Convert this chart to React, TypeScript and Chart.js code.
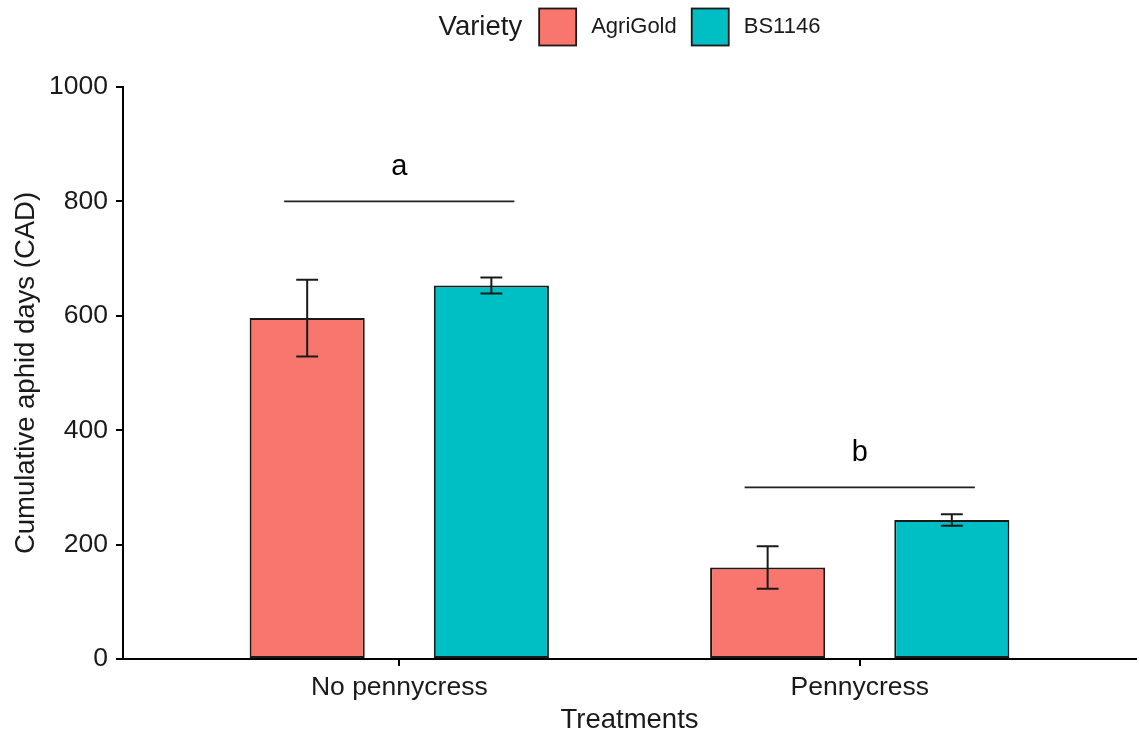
import React, { useEffect, useRef } from "react";
import { Chart, registerables } from "chart.js";

Chart.register(...registerables);

// ---- data ----
const categories = ["No pennycress", "Pennycress"];
const varieties = ["AgriGold", "BS1146"];
const agriGoldMean = [596, 160];
const agriGoldSE = [67, 37];
const bs1146Mean = [653, 243];
const bs1146SE = [14, 10];
const sigLetters = ["a", "b"];
const sigLineY = [800, 300];
const sigLetterY = [860, 360];
const yTicks = [0, 200, 400, 600, 800, 1000];

// ---- styling ----
const colors = ["#F8766D", "#00BFC4"];
const FONT = '"Liberation Sans", Arial, sans-serif';
const TEXT = "#1a1a1a";
const DODGE = 0.2;
const SIG_HALF = 0.25;

const errorBarPlugin = {
  id: "errorBars",
  afterDatasetsDraw(chart: any) {
    const ctx = chart.ctx;
    const yScale = chart.scales.y;
    ctx.save();
    ctx.strokeStyle = TEXT;
    ctx.lineWidth = 2;
    chart.data.datasets.forEach((ds: any, di: number) => {
      const meta = chart.getDatasetMeta(di);
      meta.data.forEach((bar: any, j: number) => {
        const mean = ds.data[j].y;
        const se = ds.se[j];
        const x = bar.x;
        const half = bar.width * 0.095;
        const yHi = yScale.getPixelForValue(mean + se);
        const yLo = yScale.getPixelForValue(mean - se);
        ctx.beginPath();
        ctx.moveTo(x, yHi);
        ctx.lineTo(x, yLo);
        ctx.moveTo(x - half, yHi);
        ctx.lineTo(x + half, yHi);
        ctx.moveTo(x - half, yLo);
        ctx.lineTo(x + half, yLo);
        ctx.stroke();
      });
    });
    ctx.restore();
  },
};

const sigPlugin = {
  id: "sigLines",
  afterDatasetsDraw(chart: any) {
    const ctx = chart.ctx;
    const xs = chart.scales.x;
    const ys = chart.scales.y;
    ctx.save();
    ctx.strokeStyle = "#222";
    ctx.lineWidth = 1.8;
    ctx.fillStyle = "#000";
    ctx.font = `29px ${FONT}`;
    ctx.textAlign = "center";
    ctx.textBaseline = "middle";
    categories.forEach((_, i) => {
      const c = i + 1;
      const y = ys.getPixelForValue(sigLineY[i]);
      ctx.beginPath();
      ctx.moveTo(xs.getPixelForValue(c - SIG_HALF), y);
      ctx.lineTo(xs.getPixelForValue(c + SIG_HALF), y);
      ctx.stroke();
      ctx.fillText(sigLetters[i], xs.getPixelForValue(c), ys.getPixelForValue(sigLetterY[i]));
    });
    ctx.restore();
  },
};

const legendPlugin = {
  id: "ggLegend",
  afterDraw(chart: any) {
    const ctx = chart.ctx;
    const area = chart.chartArea;
    ctx.save();
    const titleFont = `27.5px ${FONT}`;
    const labelFont = `22px ${FONT}`;
    ctx.font = titleFont;
    const titleW = ctx.measureText("Variety").width;
    ctx.font = labelFont;
    const labW = varieties.map((v) => ctx.measureText(v).width);
    const box = 37;
    const gapTitle = 17;
    const gap = 15;
    let total = titleW + gapTitle;
    labW.forEach((w, i) => {
      total += box + gap + w + (i < labW.length - 1 ? gap : 0);
    });
    let x = (area.left + area.right) / 2 - total / 2;
    const cy = 27;
    ctx.textBaseline = "middle";
    ctx.textAlign = "left";
    ctx.fillStyle = TEXT;
    ctx.font = titleFont;
    ctx.fillText("Variety", x, cy);
    x += titleW + gapTitle;
    varieties.forEach((v, i) => {
      ctx.fillStyle = colors[i];
      ctx.fillRect(x, cy - box / 2, box, box);
      ctx.strokeStyle = TEXT;
      ctx.lineWidth = 1.8;
      ctx.strokeRect(x, cy - box / 2, box, box);
      x += box + gap;
      ctx.fillStyle = TEXT;
      ctx.font = labelFont;
      ctx.fillText(v, x, cy);
      x += labW[i] + gap;
    });
    ctx.restore();
  },
};

export default function App() {
  const canvasRef = useRef<HTMLCanvasElement | null>(null);

  useEffect(() => {
    if (!canvasRef.current) return;
    const means = [agriGoldMean, bs1146Mean];
    const ses = [agriGoldSE, bs1146SE];
    const chart = new Chart(canvasRef.current, {
      type: "bar",
      data: {
        datasets: varieties.map((name, vi) => ({
          label: name,
          data: means[vi].map((v, i) => ({ x: i + 1 + (vi === 0 ? -DODGE : DODGE), y: v })),
          se: ses[vi],
          backgroundColor: colors[vi],
          borderColor: TEXT,
          borderWidth: 2,
          borderSkipped: false,
          grouped: false,
          barPercentage: 0.625,
          categoryPercentage: 1,
        })) as any,
      },
      options: {
        responsive: false,
        animation: false,
        events: [],
        layout: { padding: { top: 87, right: 3, left: 0, bottom: 0 } },
        plugins: {
          legend: { display: false },
          tooltip: { enabled: false },
        },
        scales: {
          x: {
            type: "linear",
            min: 0.4,
            max: 2.6,
            offset: false,
            afterBuildTicks: (scale: any) => {
              scale.ticks = categories.map((_, i) => ({ value: i + 1 }));
            },
            afterFit: (scale: any) => {
              scale.height = 81;
            },
            ticks: {
              autoSkip: false,
              maxRotation: 0,
              padding: 6,
              color: TEXT,
              font: { family: FONT, size: 26.5 },
              callback: (v: any) => categories[Math.round(Number(v)) - 1] ?? "",
            },
            grid: {
              offset: false,
              drawOnChartArea: false,
              drawTicks: true,
              tickLength: 7,
              color: "#000",
              lineWidth: 2,
            },
            border: { display: true, color: "#000", width: 2 },
            title: {
              display: true,
              text: "Treatments",
              color: TEXT,
              font: { family: FONT, size: 27.5 },
              padding: { top: 0, bottom: 3 },
            },
          },
          y: {
            type: "linear",
            min: 0,
            max: 1000,
            afterBuildTicks: (scale: any) => {
              scale.ticks = yTicks.map((v) => ({ value: v }));
            },
            afterFit: (scale: any) => {
              scale.width = 123;
            },
            ticks: {
              padding: 8,
              color: TEXT,
              font: { family: FONT, size: 26.5 },
              callback: (v: any) => String(v),
            },
            grid: {
              drawOnChartArea: false,
              drawTicks: true,
              tickLength: 7,
              color: "#000",
              lineWidth: 2,
            },
            border: { display: true, color: "#000", width: 2 },
            title: {
              display: true,
              text: "Cumulative aphid days (CAD)",
              color: TEXT,
              font: { family: FONT, size: 27.5 },
              padding: { top: 10, bottom: 0 },
            },
          },
        },
      },
      plugins: [errorBarPlugin, sigPlugin, legendPlugin],
    });
    return () => chart.destroy();
  }, []);

  return (
    <div style={{ position: "absolute", left: 0, top: 0, width: 1139, height: 740, background: "#fff" }}>
      <canvas ref={canvasRef} width={1139} height={740} style={{ display: "block" }} />
    </div>
  );
}
